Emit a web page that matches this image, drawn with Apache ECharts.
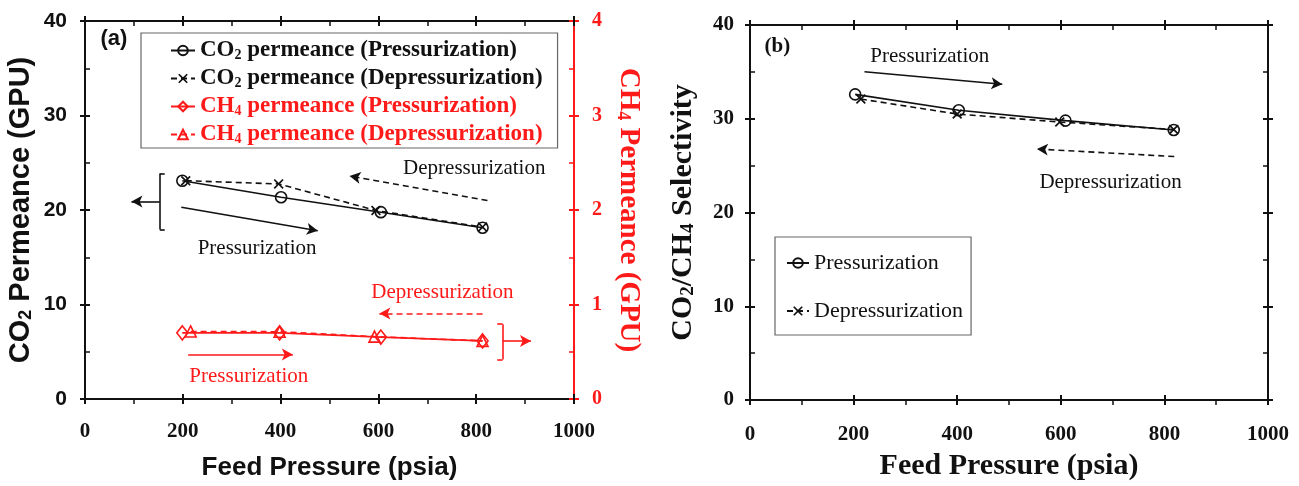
<!DOCTYPE html>
<html><head><meta charset="utf-8">
<script src="https://cdn.jsdelivr.net/npm/echarts@6/dist/echarts.min.js"></script>
<style>html,body{margin:0;padding:0;background:#fff}#c{width:1299px;height:486px}</style>
</head><body><div id="c"></div>
<script>
// ---- data ----
const co2PressX = [199, 401, 605, 813];
const co2PressY = [23.1, 21.35, 19.77, 18.12];
const co2DepX = [206, 396, 595, 813];
const co2DepY = [23.1, 22.76, 19.95, 18.19];
const ch4PressX = [199, 398, 605, 813];
const ch4PressY = [0.70, 0.70, 0.655, 0.615];
const ch4DepX = [216, 398, 592, 813];
const ch4DepY = [0.715, 0.712, 0.66, 0.615];
const selPressX = [203, 403, 609, 818];
const selPressY = [32.6, 30.9, 29.8, 28.8];
const selDepX = [214, 400, 598, 818];
const selDepY = [32.1, 30.5, 29.65, 28.85];
const seriesNamesA = ['CO2 permeance (Pressurization)', 'CO2 permeance (Depressurization)', 'CH4 permeance (Pressurization)', 'CH4 permeance (Depressurization)'];
const seriesNamesB = ['Pressurization', 'Depressurization'];

const pairs = (xs, ys) => xs.map((x, i) => [x, ys[i]]);
const BLACK = '#111', RED = '#ff1a1a';
const SERIF = 'Liberation Serif', SANS = 'Liberation Sans';
const XPATH = 'path://M0,1.2L1.2,0L5,3.8L8.8,0L10,1.2L6.2,5L10,8.8L8.8,10L5,6.2L1.2,10L0,8.8L3.8,5Z';
const DASH = [6, 4];
const plain = (v) => String(v);

function mkAxis(gi, pos, o) {
  const main = {
    type: 'value', gridIndex: gi, position: pos, min: o.min, max: o.max, interval: o.interval,
    splitLine: { show: false },
    axisLine: { show: true, onZero: false, lineStyle: { color: o.color, width: 2 } },
    axisTick: { show: true, inside: false, length: 5, lineStyle: { color: o.color, width: 2 } },
    minorTick: { show: !o.minorIn, splitNumber: 2, length: 5, lineStyle: { color: o.color, width: 1.5 } },
    axisLabel: o.label ? Object.assign({ show: true, formatter: plain }, o.label) : { show: false },
    name: o.name || '', nameLocation: 'middle', nameGap: o.nameGap || 0,
    nameRotate: o.nameRotate, nameTextStyle: o.nameTextStyle || {}
  };
  const comp = {
    type: 'value', gridIndex: gi, position: pos, min: o.min, max: o.max, interval: o.interval,
    splitLine: { show: false }, axisLine: { show: false, onZero: false },
    axisTick: { show: true, inside: true, length: 5, lineStyle: { color: o.color, width: 2 } },
    minorTick: { show: !!o.minorIn, splitNumber: 2, length: 5, lineStyle: { color: o.color, width: 1.5 } },
    axisLabel: { show: false }
  };
  return [main, comp];
}

function subRich(size, color, family) {
  return {
    n: { fontSize: size, fontWeight: 'bold', fontFamily: family, color: color, lineHeight: size },
    s: { fontSize: Math.round(size * 0.62), fontWeight: 'bold', fontFamily: family, color: color, lineHeight: Math.round(size * 0.4), verticalAlign: 'bottom' }
  };
}

const xLabelSerif = { fontFamily: SERIF, fontWeight: 'bold', fontSize: 21, color: BLACK };

const xAxes = [].concat(
  mkAxis(0, 'bottom', { min: 0, max: 1000, interval: 200, color: BLACK, label: Object.assign({ margin: 22 }, xLabelSerif),
    name: 'Feed Pressure (psia)', nameGap: 56, nameTextStyle: { fontFamily: SANS, fontWeight: 'bold', fontSize: 26, color: BLACK } }),
  mkAxis(0, 'top', { min: 0, max: 1000, interval: 200, color: BLACK, minorIn: true }),
  mkAxis(1, 'bottom', { min: 0, max: 1000, interval: 200, color: BLACK, label: Object.assign({ margin: 24 }, xLabelSerif),
    name: 'Feed Pressure (psia)', nameGap: 51, nameTextStyle: { fontFamily: SERIF, fontWeight: 'bold', fontSize: 30, color: BLACK } }),
  mkAxis(1, 'top', { min: 0, max: 1000, interval: 200, color: BLACK, minorIn: true })
);

const yAxes = [].concat(
  mkAxis(0, 'left', { min: 0, max: 40, interval: 10, color: BLACK, minorIn: true,
    label: { fontFamily: SANS, fontWeight: 'bold', fontSize: 21, color: BLACK, margin: 18 },
    name: '{n|CO}{s|2}{n| Permeance (GPU)}', nameGap: 50, nameRotate: 90,
    nameTextStyle: { rich: subRich(29, BLACK, SANS) } }),
  mkAxis(0, 'right', { min: 0, max: 4, interval: 1, color: RED, minorIn: true,
    label: { fontFamily: SERIF, fontWeight: 'bold', fontSize: 20, color: RED, margin: 18 },
    name: '{n|CH}{s|4}{n| Permeance (GPU)}', nameGap: 40, nameRotate: -90,
    nameTextStyle: { rich: subRich(29, RED, SERIF) } }),
  mkAxis(1, 'left', { min: 0, max: 40, interval: 10, color: BLACK, minorIn: true,
    label: { fontFamily: SERIF, fontWeight: 'bold', fontSize: 21, color: BLACK, margin: 16 },
    name: '{n|CO}{s|2}{n|/CH}{s|4}{n| Selectivity}', nameGap: 52, nameRotate: 90,
    nameTextStyle: { rich: subRich(30, BLACK, SERIF) } }),
  mkAxis(1, 'right', { min: 0, max: 40, interval: 10, color: BLACK, minorIn: true })
);

function seg(a, b, color, dashed, arrowEnd) {
  const ls = { color: color, width: 1.6, type: dashed ? DASH : 'solid' };
  return [{ coord: a, symbol: 'none', lineStyle: ls }, { coord: b, symbol: arrowEnd ? 'arrow' : 'none', lineStyle: ls }];
}
function txt(coord, text, style) {
  return { coord: coord, symbol: 'rect', symbolSize: 1, itemStyle: { color: 'rgba(0,0,0,0)' },
    label: Object.assign({ show: true, position: 'inside', formatter: text }, style) };
}
const annSerif = (c) => ({ fontFamily: SERIF, fontSize: 21, color: c });

const markLineA = {
  silent: true, symbolSize: [9, 11], label: { show: false }, animation: false,
  data: [
    seg([197, 20.3], [476, 17.8], BLACK, false, true),
    seg([823, 21.0], [541, 23.6], BLACK, true, true),
    seg([153, 23.85], [153, 17.94], BLACK, false, false),
    seg([153, 23.85], [163, 23.85], BLACK, false, false),
    seg([153, 17.94], [163, 17.94], BLACK, false, false),
    seg([153, 20.9], [95, 20.9], BLACK, false, true),
    seg([813, 9.05], [602, 9.05], RED, true, true),
    seg([211, 4.72], [425, 4.72], RED, false, true),
    seg([854, 7.92], [854, 4.19], RED, false, false),
    seg([854, 7.92], [843, 7.92], RED, false, false),
    seg([854, 4.19], [843, 4.19], RED, false, false),
    seg([854, 6.15], [912, 6.15], RED, false, true)
  ]
};
const markPointA = {
  silent: true, animation: false,
  data: [
    txt([59, 38.1], '(a)', { fontFamily: SANS, fontWeight: 'bold', fontSize: 22, color: BLACK }),
    txt([352, 15.9], 'Pressurization', annSerif(BLACK)),
    txt([796, 24.35], 'Depressurization', annSerif(BLACK)),
    txt([731, 11.32], 'Depressurization', annSerif(RED)),
    txt([335, 2.35], 'Pressurization', annSerif(RED))
  ]
};
const markLineB = {
  silent: true, symbolSize: [9, 11], label: { show: false }, animation: false,
  data: [
    seg([221, 35.02], [487, 33.68], BLACK, false, true),
    seg([819, 25.97], [554, 26.77], BLACK, true, true)
  ]
};
const markPointB = {
  silent: true, animation: false,
  data: [
    txt([53, 37.7], '(b)', { fontFamily: SERIF, fontWeight: 'bold', fontSize: 21, color: BLACK }),
    txt([347, 36.66], 'Pressurization', annSerif(BLACK)),
    txt([696, 23.16], 'Depressurization', annSerif(BLACK))
  ]
};

const hollow = (c) => ({ color: 'rgba(255,255,255,0)', borderColor: c, borderWidth: 1.6 });

const legendRich = {
  'CO2 permeance (Pressurization)': '{b|CO}{bs|2}{b| permeance (Pressurization)}',
  'CO2 permeance (Depressurization)': '{b|CO}{bs|2}{b| permeance (Depressurization)}',
  'CH4 permeance (Pressurization)': '{r|CH}{rs|4}{r| permeance (Pressurization)}',
  'CH4 permeance (Depressurization)': '{r|CH}{rs|4}{r| permeance (Depressurization)}'
};

const option = {
  animation: false,
  backgroundColor: '#fff',
  grid: [
    { left: 85, right: 725, top: 21, bottom: 87 },
    { left: 750, right: 31, top: 25, bottom: 81 }
  ],
  xAxis: xAxes,
  yAxis: yAxes,
  legend: [
    {
      data: seriesNamesA, orient: 'vertical', left: 141, top: 33,
      padding: [6, 15, 2, 29], itemGap: 5, itemWidth: 24, itemHeight: 12,
      borderColor: '#666', borderWidth: 1.2, selectedMode: false,
      formatter: (n) => legendRich[n],
      textStyle: {
        rich: {
          b: { fontFamily: SERIF, fontWeight: 'bold', fontSize: 23, color: BLACK, lineHeight: 23 },
          bs: { fontFamily: SERIF, fontWeight: 'bold', fontSize: 14, color: BLACK, lineHeight: 9, verticalAlign: 'bottom' },
          r: { fontFamily: SERIF, fontWeight: 'bold', fontSize: 23, color: RED, lineHeight: 23 },
          rs: { fontFamily: SERIF, fontWeight: 'bold', fontSize: 14, color: RED, lineHeight: 9, verticalAlign: 'bottom' }
        }
      }
    },
    {
      data: seriesNamesB, orient: 'vertical', left: 775, top: 237,
      padding: [15, 8, 13, 11], itemGap: 26, itemWidth: 22, itemHeight: 12,
      borderColor: '#666', borderWidth: 1.2, selectedMode: false,
      textStyle: { fontFamily: SERIF, fontSize: 22, color: BLACK }
    }
  ],
  series: [
    { name: seriesNamesA[0], type: 'line', xAxisIndex: 0, yAxisIndex: 0, data: pairs(co2PressX, co2PressY),
      symbol: 'circle', symbolSize: 11, itemStyle: hollow(BLACK), lineStyle: { color: BLACK, width: 1.6 },
      markLine: markLineA, markPoint: markPointA, z: 3 },
    { name: seriesNamesA[1], type: 'line', xAxisIndex: 0, yAxisIndex: 0, data: pairs(co2DepX, co2DepY),
      symbol: XPATH, symbolSize: 10, itemStyle: { color: BLACK }, lineStyle: { color: BLACK, width: 1.6, type: DASH } },
    { name: seriesNamesA[2], type: 'line', xAxisIndex: 0, yAxisIndex: 2, data: pairs(ch4PressX, ch4PressY),
      symbol: 'diamond', symbolSize: [11, 14], itemStyle: hollow(RED), lineStyle: { color: RED, width: 1.6 } },
    { name: seriesNamesA[3], type: 'line', xAxisIndex: 0, yAxisIndex: 2, data: pairs(ch4DepX, ch4DepY),
      symbol: 'triangle', symbolSize: 11, itemStyle: hollow(RED), lineStyle: { color: RED, width: 1.6, type: DASH } },
    { name: seriesNamesB[0], type: 'line', xAxisIndex: 4, yAxisIndex: 4, data: pairs(selPressX, selPressY),
      symbol: 'circle', symbolSize: 11, itemStyle: hollow(BLACK), lineStyle: { color: BLACK, width: 1.6 },
      markLine: markLineB, markPoint: markPointB },
    { name: seriesNamesB[1], type: 'line', xAxisIndex: 4, yAxisIndex: 4, data: pairs(selDepX, selDepY),
      symbol: XPATH, symbolSize: 10, itemStyle: { color: BLACK }, lineStyle: { color: BLACK, width: 1.6, type: DASH } }
  ]
};

const chart = echarts.init(document.getElementById('c'), null, { renderer: 'canvas' });
chart.setOption(option);
</script>
</body></html>
